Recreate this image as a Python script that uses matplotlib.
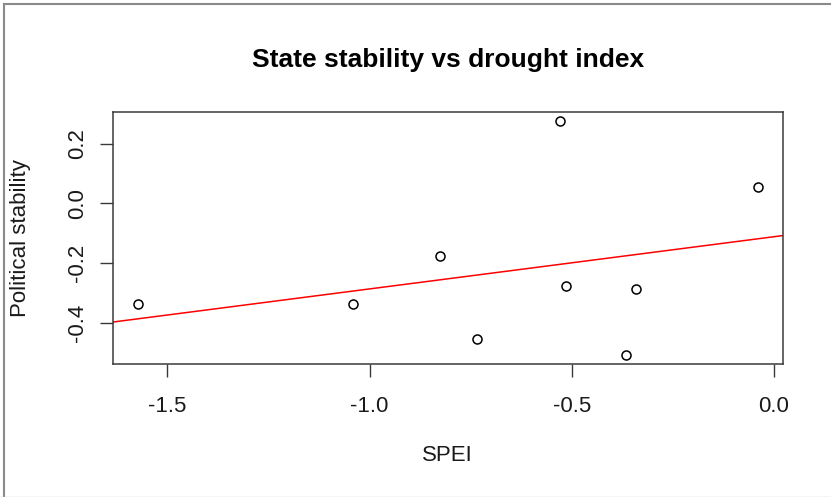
import numpy as np
import matplotlib
matplotlib.use("Agg")
import matplotlib.pyplot as plt
from matplotlib.lines import Line2D

# ---- data ----
spei = [-1.574, -1.042, -0.827, -0.735, -0.530, -0.514, -0.367, -0.342, -0.040]
stability = [-0.338, -0.339, -0.177, -0.457, 0.277, -0.278, -0.508, -0.288, 0.056]
x_ticks = [-1.5, -1.0, -0.5, 0.0]
y_ticks = [-0.4, -0.2, 0.0, 0.2]
title = "State stability vs drought index"
x_label = "SPEI"
y_label = "Political stability"

plt.rcParams['font.family'] = ['Liberation Sans', 'DejaVu Sans']

W, H = 831, 497
fig = plt.figure(figsize=(W / 100, H / 100), dpi=100)
fig.patch.set_facecolor('white')

left, right, top, bottom = 112.7, 782.7, 111.7, 364.0
ax = fig.add_axes([left / W, (H - bottom) / H, (right - left) / W, (bottom - top) / H])

x = np.array(spei)
y = np.array(stability)

ax.plot(x, y, linestyle='none', marker='o', markersize=6.5,
        markerfacecolor='none', markeredgecolor='black', markeredgewidth=1.1)

# R-style 4% axis expansion
xr = x.max() - x.min()
yr = y.max() - y.min()
ax.set_xlim(x.min() - 0.04 * xr, x.max() + 0.04 * xr)
ax.set_ylim(y.min() - 0.04 * yr, y.max() + 0.04 * yr)

# least squares fit line (abline(lm(y ~ x)))
slope, intercept = np.polyfit(x, y, 1)
ax.axline((0.0, intercept), slope=slope, color='#ff0000', linewidth=1.1)

ax.set_xticks(x_ticks)
ax.set_xticklabels([f"{v:.1f}" for v in x_ticks])
ax.set_yticks(y_ticks)
ax.set_yticklabels([f"{v:.1f}" for v in y_ticks])

for s in ax.spines.values():
    s.set_color('#3a3a3a')
    s.set_linewidth(1.1)

ax.tick_params(axis='both', direction='out', length=9.1, width=1.0,
               color='#3a3a3a', labelsize=16, labelcolor='#1a1a1a')
ax.tick_params(axis='x', pad=14)
ax.tick_params(axis='y', pad=8.9)
for lab in ax.get_yticklabels():
    lab.set_rotation(90)
    lab.set_va('center')
    lab.set_ha('right')

ax.set_title(title, fontsize=19, fontweight='bold', y=(bottom - 67.3) / (bottom - top), pad=0,
             va='baseline')
ax.set_xlabel(x_label, fontsize=16, color='#1a1a1a')
ax.xaxis.set_label_coords(0.5, (bottom - 455.3) / (bottom - top))
ax.xaxis.label.set_va('center')
ax.set_ylabel(y_label, fontsize=16, color='#1a1a1a')
ax.yaxis.set_label_coords((21.0 - left) / (right - left), 0.5)
ax.yaxis.label.set_va('center')

# window frame of the screenshot
fig.add_artist(Line2D([4 / W, 1.0], [1 - 4 / H, 1 - 4 / H], transform=fig.transFigure,
                      color='#8a8a8a', linewidth=1.5))
fig.add_artist(Line2D([4 / W, 4 / W], [0.0, 1 - 4 / H], transform=fig.transFigure,
                      color='#8a8a8a', linewidth=1.5))
fig.add_artist(Line2D([0.0, 1.0], [0.5 / H, 0.5 / H], transform=fig.transFigure,
                      color='#c8c8c8', linewidth=1.0))

fig.savefig("out.png", dpi=100, facecolor='white')
